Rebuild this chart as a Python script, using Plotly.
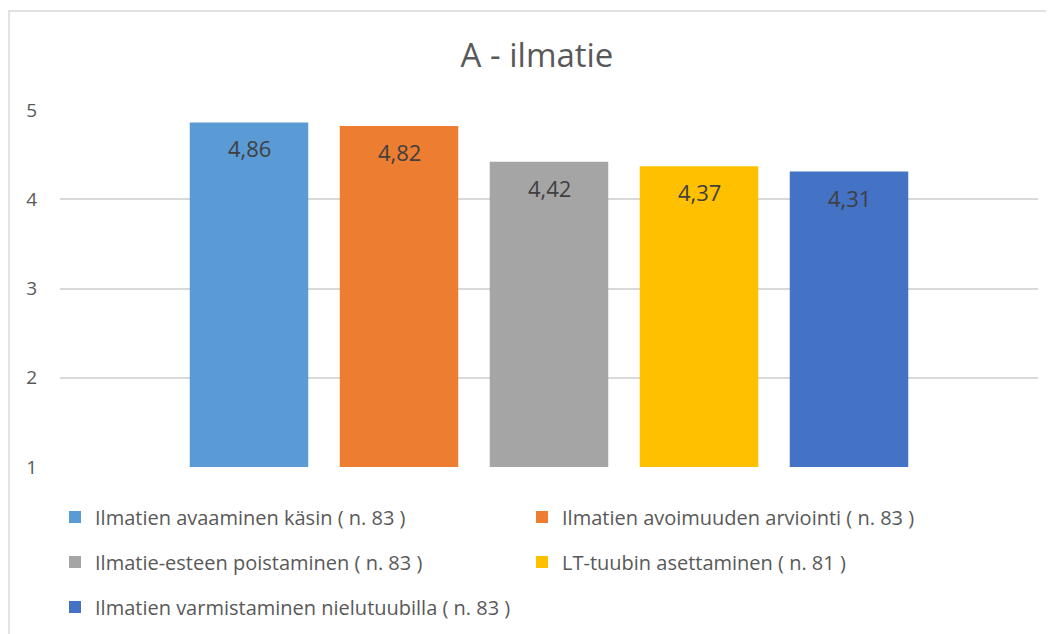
import plotly.graph_objects as go

series_names = [
    "Ilmatien avaaminen käsin ( n. 83 )",
    "Ilmatien avoimuuden arviointi ( n. 83 )",
    "Ilmatie-esteen poistaminen ( n. 83 )",
    "LT-tuubin asettaminen ( n. 81 )",
    "Ilmatien varmistaminen nielutuubilla ( n. 83 )",
]
values = [4.86, 4.82, 4.42, 4.37, 4.31]
colors = ["#5B9BD5", "#ED7D31", "#A5A5A5", "#FFC000", "#4472C4"]
legend_ids = ["legend", "legend", "legend2", "legend2", "legend3"]
y_ticks = [1, 2, 3, 4, 5]
title_text = "A - ilmatie"

FONT = "Open Sans"
W, H = 1046, 626
ML, MR, MT, MB = 52, 16, 102, 167

fig = go.Figure()
for name, v, c, lg in zip(series_names, values, colors, legend_ids):
    fig.add_trace(go.Bar(x=[name], y=[v], name=name, marker=dict(color=c, line=dict(width=0)),
                         legend=lg, hoverinfo="name+y"))
    fig.add_annotation(x=name, y=v, text=f"{v:.2f}".replace(".", ","), showarrow=False,
                       yanchor="middle", yshift=-26,
                       font=dict(family=FONT, size=22, color="#404040"))

legend_common = dict(orientation="h", xref="container", yref="container",
                     xanchor="left", yanchor="middle", entrywidth=422, entrywidthmode="pixels",
                     font=dict(family=FONT, size=20, color="#595959"),
                     bgcolor="rgba(0,0,0,0)", itemclick=False)

fig.update_layout(
    width=W, height=H,
    margin=dict(l=ML, r=MR, t=MT, b=MB, autoexpand=False),
    paper_bgcolor="white", plot_bgcolor="white",
    barmode="overlay", bargap=0.21,
    showlegend=True,
    title=dict(text=title_text, x=529 / W, xanchor="center", y=1 - 47 / H, yanchor="middle",
               font=dict(family=FONT, size=33, color="#595959")),
    xaxis=dict(range=[-1.26, 5.26], showticklabels=False, showgrid=False, zeroline=False,
               showline=False, ticks=""),
    yaxis=dict(range=[1, 5], tickvals=y_ticks, showgrid=True, gridcolor="#D9D9D9", gridwidth=1.5,
               zeroline=False, showline=False, ticks="", ticklabelstandoff=22,
               tickfont=dict(family=FONT, size=19, color="#595959")),
    legend=dict(x=47 / W, y=1 - 509 / H, **legend_common),
    legend2=dict(x=47 / W, y=1 - 554 / H, **legend_common),
    legend3=dict(x=47 / W, y=1 - 599 / H, **legend_common),
)

# chart area border (cropped on right and bottom in the reference)
pw, ph = W - ML - MR, H - MT - MB
def px(xp):
    return (xp - ML) / pw
def py(yp):
    return (H - MB - yp) / ph
fig.add_shape(type="rect", xref="paper", yref="paper", x0=px(1), x1=px(1080), y0=py(3), y1=py(660),
              line=dict(color="#D9D9D9", width=1.5), fillcolor="rgba(0,0,0,0)", layer="below")

fig.write_html("out.html")
